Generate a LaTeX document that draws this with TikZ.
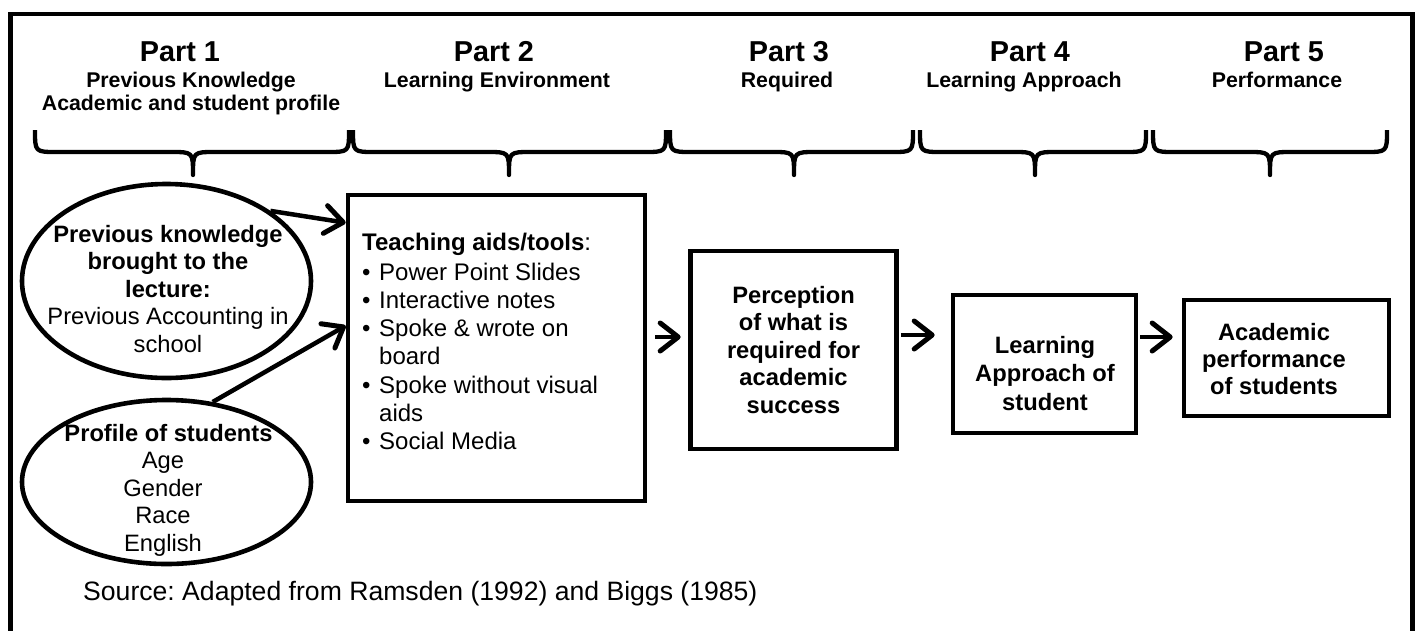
\documentclass[tikz,border=0pt]{standalone}
\usepackage{fontspec}
\setmainfont{Liberation Sans}
\usetikzlibrary{arrows.meta,shapes.geometric}
\frenchspacing
\newcommand\bul{\makebox[17pt][l]{\textbullet}}
\newcommand\ind{\hspace*{17pt}}
\newcommand\mybrace[3]{%
  \draw[brc] (#1,130) .. controls (#1,152) .. ({#1+22},152) -- ({#2-22},152)
    .. controls (#2,152) .. (#2,175) .. controls (#2,152) .. ({#2+22},152)
    -- ({#3-22},152) .. controls (#3,152) .. (#3,130);}
\begin{document}
\begin{tikzpicture}[x=1pt,y=-1pt,
  boxn/.style={draw, line width=4.6pt, rectangle, inner sep=0pt},
  ell/.style={draw, line width=4.6pt, ellipse, inner sep=0pt},
  txt/.style={inner sep=0pt, anchor=base},
  hdr/.style={txt, font=\bfseries\fontsize{28.8}{30}\selectfont},
  sub/.style={txt, font=\bfseries\fontsize{21.3}{23.4}\selectfont},
  arr/.style={line width=4.5pt, line join=round,
    -{Straight Barb[length=18pt,width=28pt,line width=5pt,round]}},
  brc/.style={line width=4.3pt, line join=round}
]
\useasboundingbox (0,0) rectangle (1418,630);
\fill[white] (0,0) rectangle (1418,630);
% outer frame
\draw[line width=4.2pt] (10.5,640) -- (10.5,14) -- (1412.5,14) -- (1412.5,640);

% headers
\node[hdr] (p1) at (180,61) {Part 1};
\node[sub] (s1) at (191,87) {\begin{tabular}[t]{@{}c@{}}Previous Knowledge\\ Academic and student profile\end{tabular}};
\node[hdr] (p2) at (494,61) {Part 2};
\node[sub] (s2) at (497,87) {Learning Environment};
\node[hdr] (p3) at (789,61) {Part 3};
\node[sub] (s3) at (787,87) {Required};
\node[hdr] (p4) at (1030,61) {Part 4};
\node[sub] (s4) at (1024,87) {Learning Approach};
\node[hdr] (p5) at (1284,61) {Part 5};
\node[sub] (s5) at (1277,87) {Performance};

% braces
\mybrace{35}{193}{349}
\mybrace{353}{509}{666}
\mybrace{670}{794}{913}
\mybrace{920}{1035}{1146}
\mybrace{1153}{1270}{1387}

% shapes
\node[ell, minimum width=289pt, minimum height=194pt] (e1) at (166.5,281) {};
\node[ell, minimum width=289pt, minimum height=164pt] (e2) at (166.5,482) {};
\node[boxn, minimum width=297pt, minimum height=306pt] (teach) at (496.5,348) {};
\node[boxn, minimum width=206pt, minimum height=198pt] (perc) at (793.5,350) {};
\node[boxn, minimum width=183pt, minimum height=138pt] (learn) at (1044.5,364) {};
\node[boxn, minimum width=205pt, minimum height=116pt] (acad) at (1286.5,358) {};

% texts
\node[txt, font=\fontsize{23.7}{27.5}\selectfont] (t1) at (168,242)
  {\begin{tabular}[t]{@{}c@{}}\textbf{Previous knowledge}\\ \textbf{brought to the}\\ \textbf{lecture:}\\ Previous Accounting in\\ school\end{tabular}};
\node[txt, font=\fontsize{23.7}{27.5}\selectfont] (t2) at (163,441)
  {\begin{tabular}[t]{@{}c@{}}\hspace*{11pt}\textbf{Profile of students}\\ Age\\ Gender\\ Race\\ English\end{tabular}};
\node[txt, anchor=base west, font=\fontsize{24}{28.3}\selectfont] (t3) at (362,250)
  {\begin{tabular}[t]{@{}l@{}}\textbf{Teaching aids/tools}:\\[1.7pt]
   \bul Power Point Slides\\ \bul Interactive notes\\ \bul Spoke \& wrote on\\ \ind board\\
   \bul Spoke without visual\\ \ind aids\\ \bul Social Media\end{tabular}};
\node[txt, font=\bfseries\fontsize{23.7}{27.5}\selectfont] (t4) at (793.5,303)
  {\begin{tabular}[t]{@{}c@{}}Perception\\ of what is\\ required for\\ academic\\ success\end{tabular}};
\node[txt, font=\bfseries\fontsize{23.7}{28.5}\selectfont] (t5) at (1045,353)
  {\begin{tabular}[t]{@{}c@{}}Learning\\ Approach of\\ student\end{tabular}};
\node[txt, font=\bfseries\fontsize{23.7}{27}\selectfont] (t6) at (1274,340)
  {\begin{tabular}[t]{@{}c@{}}Academic\\ performance\\ of students\end{tabular}};
\node[txt, anchor=base west, font=\fontsize{26.6}{30}\selectfont] (src) at (83,600)
  {Source: Adapted from Ramsden (1992) and Biggs (1985)};

% connectors
\draw[arr] (e1.34) -- ([yshift=-30pt]teach.north west);
\draw[arr] (e2.60) -- ([yshift=-133pt]teach.north west);
\coordinate (a3) at ([yshift=11pt]teach.east);
\draw[arr, shorten <=8pt, shorten >=7.5pt] (a3) -- (a3 -| perc.west);
\coordinate (a4) at ([yshift=15pt]perc.east);
\draw[arr, shorten <=2pt, shorten >=16pt] (a4) -- (a4 -| learn.west);
\coordinate (a5) at ([yshift=27pt]learn.east);
\draw[arr, shorten <=2pt, shorten >=9pt] (a5) -- (a5 -| acad.west);
\end{tikzpicture}
\end{document}
